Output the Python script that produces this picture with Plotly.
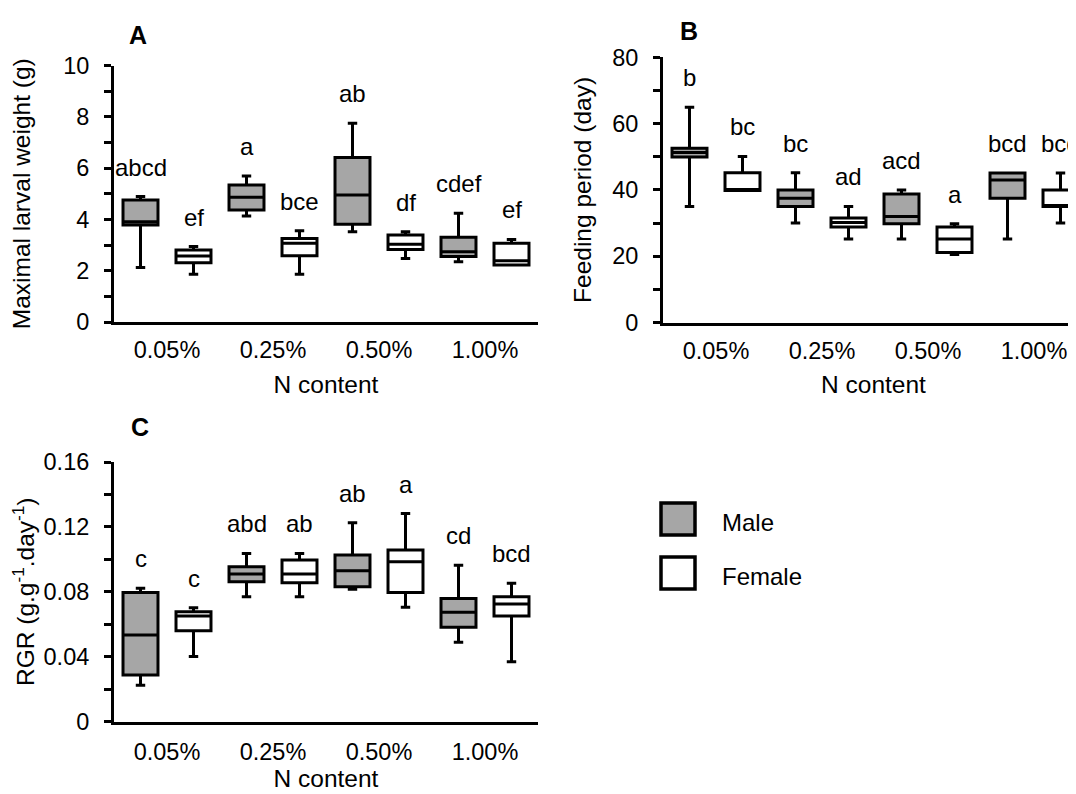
import plotly.graph_objects as go

W, H = 1076, 794
OX, OY = 8, 8  # page body offset of the figure in the screenshot

categories = ["0.05%", "0.25%", "0.50%", "1.00%"]

# ---- Panel A: Maximal larval weight (g)
a_male_min = [2.12, 4.13, 3.52, 2.35]
a_male_q1 = [3.78, 4.37, 3.81, 2.55]
a_male_med = [3.91, 4.86, 4.95, 2.74]
a_male_q3 = [4.76, 5.34, 6.41, 3.30]
a_male_max = [4.89, 5.69, 7.75, 4.24]
a_female_min = [1.86, 1.86, 2.48, 2.22]
a_female_q1 = [2.31, 2.58, 2.83, 2.22]
a_female_med = [2.57, 3.07, 3.03, 2.39]
a_female_q3 = [2.81, 3.26, 3.39, 3.07]
a_female_max = [2.94, 3.56, 3.52, 3.22]
a_male_letters = ["abcd", "a", "ab", "cdef"]
a_female_letters = ["ef", "bce", "df", "ef"]

# ---- Panel B: Feeding period (day)
b_male_min = [35.0, 30.0, 25.2, 25.2]
b_male_q1 = [49.9, 35.0, 29.8, 37.5]
b_male_med = [51.3, 37.5, 32.0, 43.0]
b_male_q3 = [52.6, 40.0, 38.8, 45.1]
b_male_max = [64.9, 45.2, 40.0, 45.1]
b_female_min = [39.8, 25.2, 20.5, 30.0]
b_female_q1 = [39.8, 28.8, 21.1, 35.0]
b_female_med = [39.8, 30.2, 25.2, 35.0]
b_female_q3 = [45.2, 31.5, 28.8, 40.0]
b_female_max = [50.1, 35.0, 29.8, 45.1]
b_male_letters = ["b", "bc", "acd", "bcd"]
b_female_letters = ["bc", "ad", "a", "bcd"]

# ---- Panel C: RGR (g.g-1.day-1)
c_male_min = [0.0224, 0.0769, 0.0815, 0.0489]
c_male_q1 = [0.0287, 0.0862, 0.0831, 0.0581]
c_male_med = [0.0534, 0.0909, 0.0929, 0.0673]
c_male_q3 = [0.0796, 0.0954, 0.1026, 0.0759]
c_male_max = [0.0821, 0.1036, 0.1225, 0.0964]
c_female_min = [0.0400, 0.0769, 0.0704, 0.0369]
c_female_q1 = [0.0560, 0.0855, 0.0796, 0.0650]
c_female_med = [0.0650, 0.0909, 0.0985, 0.0724]
c_female_q3 = [0.0677, 0.0995, 0.1057, 0.0769]
c_female_max = [0.0702, 0.1036, 0.1282, 0.0852]
c_male_letters = ["c", "abd", "ab", "cd"]
c_female_letters = ["c", "ab", "a", "bcd"]

MALE_FILL = "#a6a6a6"
FEMALE_FILL = "#ffffff"
LINE_W = 3
FONT = "Liberation Sans, Arial, sans-serif"
FS_TICK = 23.5
FS_TITLE = 24.5
FS_LAB = 24

BOXGAP = 0.0
BOXGROUPGAP = 0.34

fig = go.Figure()
annotations = []

panels = [
    ("x", "y", (a_male_min, a_male_q1, a_male_med, a_male_q3, a_male_max, a_male_letters),
     (a_female_min, a_female_q1, a_female_med, a_female_q3, a_female_max, a_female_letters)),
    ("x2", "y2", (b_male_min, b_male_q1, b_male_med, b_male_q3, b_male_max, b_male_letters),
     (b_female_min, b_female_q1, b_female_med, b_female_q3, b_female_max, b_female_letters)),
    ("x3", "y3", (c_male_min, c_male_q1, c_male_med, c_male_q3, c_male_max, c_male_letters),
     (c_female_min, c_female_q1, c_female_med, c_female_q3, c_female_max, c_female_letters)),
]

offset = (1 - BOXGAP) / 4.0
for xa, ya, male, female in panels:
    for name, data, fill, sign in (("Male", male, MALE_FILL, -1), ("Female", female, FEMALE_FILL, 1)):
        mn, q1, md, q3, mx, letters = data
        fig.add_trace(go.Box(
            name=name, x=categories, q1=q1, median=md, q3=q3,
            lowerfence=mn, upperfence=mx,
            fillcolor=fill, line=dict(color="black", width=LINE_W),
            whiskerwidth=0.27, boxpoints=False, offsetgroup=name,
            xaxis=xa, yaxis=ya, showlegend=False, hoverinfo="skip",
        ))
        for i, (lab, top) in enumerate(zip(letters, mx)):
            annotations.append(dict(
                x=i + sign * offset, y=top, xref=xa, yref=ya, text=lab,
                showarrow=False, yanchor="bottom", xanchor="center", yshift=14,
                font=dict(family=FONT, size=FS_LAB, color="black"),
            ))


def fx(px):
    return min(max((px - OX) / W, 0.0), 1.0)


def fy(py):
    return min(max(1 - (py - OY) / H, 0.0), 1.0)


common_x = dict(
    type="category", categoryorder="array", categoryarray=categories,
    showline=True, linewidth=LINE_W, linecolor="black", ticks="",
    showgrid=False, zeroline=False, ticklabelstandoff=5, automargin=False,
    tickfont=dict(family=FONT, size=FS_TICK, color="black"),
)
common_y = dict(
    showline=True, linewidth=LINE_W, linecolor="black",
    ticks="outside", ticklen=7, tickwidth=LINE_W, tickcolor="black",
    showgrid=False, zeroline=False, ticklabelstandoff=10, automargin=False,
    tickfont=dict(family=FONT, size=FS_TICK, color="black"),
)

CAT_PX = 106.0
b_len = (W + OX - 663) / CAT_PX

fig.update_layout(
    width=W, height=H, margin=dict(l=0, r=0, t=0, b=0, autoexpand=False),
    paper_bgcolor="white", plot_bgcolor="white",
    boxmode="group", boxgap=BOXGAP, boxgroupgap=BOXGROUPGAP,
    showlegend=False,
    font=dict(family=FONT, size=FS_TICK, color="black"),
    xaxis=dict(common_x, domain=[fx(114), fx(538)], anchor="y", range=[-0.5, 3.5],
               title=dict(text="N content", standoff=14, font=dict(size=FS_TITLE))),
    yaxis=dict(common_y, domain=[fy(322), fy(65.5)], anchor="x", range=[0, 10], dtick=2,
               minor=dict(dtick=1, ticks="outside", ticklen=7, tickwidth=LINE_W, tickcolor="black"),
               title=dict(text="Maximal larval weight (g)", standoff=30, font=dict(size=FS_TITLE))),
    xaxis2=dict(common_x, domain=[fx(663), 1.0], anchor="y2", range=[-0.5, -0.5 + b_len],
                title=dict(text="N content", standoff=14, font=dict(size=FS_TITLE))),
    yaxis2=dict(common_y, domain=[fy(322.5), fy(57.3)], anchor="x2", range=[0, 80], dtick=20,
                minor=dict(dtick=10, ticks="outside", ticklen=7, tickwidth=LINE_W, tickcolor="black"),
                title=dict(text="Feeding period (day)", standoff=14, font=dict(size=FS_TITLE))),
    xaxis3=dict(common_x, domain=[fx(114), fx(538)], anchor="y3", range=[-0.5, 3.5],
                ticklabelstandoff=7,
                title=dict(text="N content", standoff=6, font=dict(size=FS_TITLE))),
    yaxis3=dict(common_y, domain=[fy(721.5), fy(462)], anchor="x3", range=[0, 0.16], dtick=0.04,
                minor=dict(dtick=0.02, ticks="outside", ticklen=7, tickwidth=LINE_W, tickcolor="black"),
                title=dict(text="RGR (g.g<sup>-1</sup>.day<sup>-1</sup>)", standoff=20, font=dict(size=FS_TITLE))),
)

# panel letters
for lab, x, y in (("A", 137.5, 35), ("B", 689, 31), ("C", 139.5, 427)):
    annotations.append(dict(x=fx(x), y=fy(y), xref="paper", yref="paper", text=f"<b>{lab}</b>",
                            showarrow=False, xanchor="center", yanchor="middle",
                            font=dict(family=FONT, size=25, color="black")))

# legend
shapes = []
for name, fill, yc in (("Male", MALE_FILL, 519), ("Female", FEMALE_FILL, 573)):
    shapes.append(dict(type="rect", xref="paper", yref="paper",
                       x0=fx(661), x1=fx(695), y0=fy(yc + 16), y1=fy(yc - 16),
                       fillcolor=fill, line=dict(color="black", width=3.5)))
    annotations.append(dict(x=fx(720), y=fy(yc + 3), xref="paper", yref="paper", text=name,
                            showarrow=False, xanchor="left", yanchor="middle",
                            font=dict(family=FONT, size=FS_LAB, color="black")))

fig.update_layout(annotations=annotations, shapes=shapes)
fig.write_html("out.html")
